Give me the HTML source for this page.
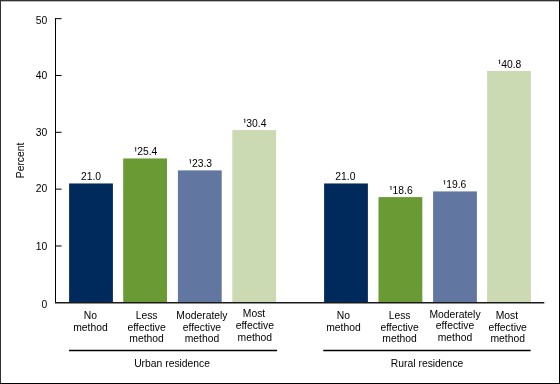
<!DOCTYPE html>
<html><head><meta charset="utf-8"><style>
html,body{margin:0;padding:0;background:#fff;}
body{width:560px;height:384px;overflow:hidden;position:relative;}
svg{position:absolute;left:0;top:0;will-change:transform;}
text{font-family:"Liberation Sans",sans-serif;font-size:10.35px;fill:#000;}
</style></head><body>
<svg width="560" height="384" viewBox="0 0 560 384">
<rect x="0" y="0" width="560" height="384" fill="#fff"/>
<rect x="0" y="1" width="560" height="1" fill="#bbb"/>
<rect x="0" y="0" width="560" height="1" fill="#333"/>
<rect x="0" y="0" width="1" height="384" fill="#333"/>
<rect x="559" y="0" width="1" height="384" fill="#000"/>
<rect x="0" y="383" width="560" height="1" fill="#000"/>
<rect x="69.10" y="183.46" width="43.80" height="119.34" fill="#002a5c"/>
<text x="91.00" y="180.16" text-anchor="middle">21.0</text>
<rect x="123.20" y="158.45" width="43.80" height="144.35" fill="#6a9a33"/>
<text x="147.30" y="155.15" text-anchor="middle">25.4</text>
<path d="M135.25 147.25h0.95v4.2h-0.95z M135.25 147.35l-0.8 0.8v0.3l0.8-0.4z" fill="#222"/>
<rect x="177.90" y="170.39" width="43.80" height="132.41" fill="#6176a0"/>
<text x="202.00" y="167.09" text-anchor="middle">23.3</text>
<path d="M189.95 159.19h0.95v4.2h-0.95z M189.95 159.29l-0.8 0.8v0.3l0.8-0.4z" fill="#222"/>
<rect x="232.30" y="130.04" width="43.80" height="172.76" fill="#ccdab4"/>
<text x="256.40" y="126.74" text-anchor="middle">30.4</text>
<path d="M244.35 118.84h0.95v4.2h-0.95z M244.35 118.94l-0.8 0.8v0.3l0.8-0.4z" fill="#222"/>
<rect x="324.10" y="183.46" width="43.80" height="119.34" fill="#002a5c"/>
<text x="345.40" y="180.16" text-anchor="middle">21.0</text>
<rect x="378.50" y="197.10" width="43.80" height="105.70" fill="#6a9a33"/>
<text x="402.60" y="193.80" text-anchor="middle">18.6</text>
<path d="M390.55 185.90h0.95v4.2h-0.95z M390.55 186.00l-0.8 0.8v0.3l0.8-0.4z" fill="#222"/>
<rect x="433.10" y="191.41" width="43.80" height="111.39" fill="#6176a0"/>
<text x="456.20" y="188.11" text-anchor="middle">19.6</text>
<path d="M444.15 180.21h0.95v4.2h-0.95z M444.15 180.31l-0.8 0.8v0.3l0.8-0.4z" fill="#222"/>
<rect x="487.10" y="70.93" width="43.80" height="231.87" fill="#ccdab4"/>
<text x="511.20" y="67.63" text-anchor="middle">40.8</text>
<path d="M499.15 59.73h0.95v4.2h-0.95z M499.15 59.83l-0.8 0.8v0.3l0.8-0.4z" fill="#222"/>
<line x1="55.5" y1="18.2" x2="55.5" y2="302.80" stroke="#000" stroke-width="1"/>
<line x1="55" y1="302.80" x2="544.3" y2="302.80" stroke="#1a1a1a" stroke-width="1.4"/>
<text x="47.2" y="307.80" text-anchor="end">0</text>
<line x1="55" y1="245.97" x2="61.6" y2="245.97" stroke="#000" stroke-width="1"/>
<text x="47.2" y="249.57" text-anchor="end">10</text>
<line x1="55" y1="189.14" x2="61.6" y2="189.14" stroke="#000" stroke-width="1"/>
<text x="47.2" y="191.94" text-anchor="end">20</text>
<line x1="55" y1="132.31" x2="61.6" y2="132.31" stroke="#000" stroke-width="1"/>
<text x="47.2" y="135.91" text-anchor="end">30</text>
<line x1="55" y1="75.48" x2="61.6" y2="75.48" stroke="#000" stroke-width="1"/>
<text x="47.2" y="79.08" text-anchor="end">40</text>
<line x1="55" y1="18.65" x2="61.6" y2="18.65" stroke="#000" stroke-width="1"/>
<text x="47.2" y="23.55" text-anchor="end">50</text>
<text transform="translate(24.2,160.4) rotate(-90)" text-anchor="middle">Percent</text>
<text x="90.40" y="318.80" text-anchor="middle">No</text>
<text x="90.40" y="330.50" text-anchor="middle">method</text>
<text x="146.60" y="318.80" text-anchor="middle">Less</text>
<text x="146.60" y="330.50" text-anchor="middle">effective</text>
<text x="146.60" y="342.20" text-anchor="middle">method</text>
<text x="201.90" y="318.80" text-anchor="middle">Moderately</text>
<text x="201.90" y="330.50" text-anchor="middle">effective</text>
<text x="201.90" y="342.20" text-anchor="middle">method</text>
<text x="254.00" y="317.30" text-anchor="middle">Most</text>
<text x="254.80" y="329.00" text-anchor="middle">effective</text>
<text x="254.80" y="340.70" text-anchor="middle">method</text>
<text x="343.40" y="318.80" text-anchor="middle">No</text>
<text x="343.40" y="330.50" text-anchor="middle">method</text>
<text x="399.60" y="318.80" text-anchor="middle">Less</text>
<text x="399.60" y="330.50" text-anchor="middle">effective</text>
<text x="399.60" y="342.20" text-anchor="middle">method</text>
<text x="455.00" y="317.60" text-anchor="middle">Moderately</text>
<text x="455.00" y="329.30" text-anchor="middle">effective</text>
<text x="455.00" y="341.00" text-anchor="middle">method</text>
<text x="506.90" y="318.80" text-anchor="middle">Most</text>
<text x="507.70" y="330.50" text-anchor="middle">effective</text>
<text x="507.70" y="342.20" text-anchor="middle">method</text>
<line x1="69" y1="350.5" x2="277.1" y2="350.5" stroke="#000" stroke-width="1.4"/>
<line x1="323.3" y1="350.5" x2="530.6" y2="350.5" stroke="#000" stroke-width="1.4"/>
<text x="172.1" y="366.6" text-anchor="middle">Urban residence</text>
<text x="427.1" y="366.6" text-anchor="middle">Rural residence</text>
</svg>
</body></html>
